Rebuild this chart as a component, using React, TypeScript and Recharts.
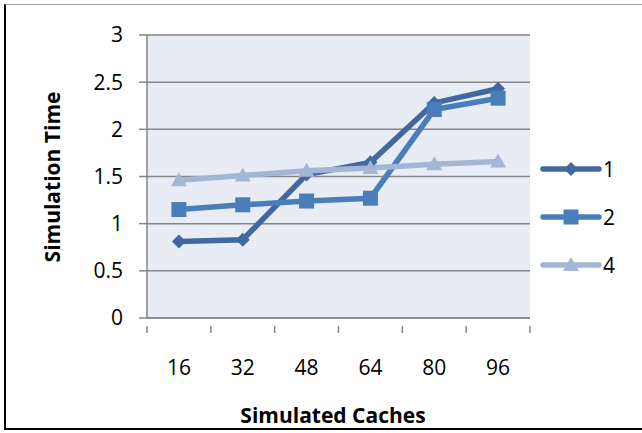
import React from 'react';
import { LineChart, Line, XAxis, YAxis, CartesianGrid, Label } from 'recharts';

// cache counts on the x axis
const caches = ['16', '32', '48', '64', '80', '96'];

// simulation time per configuration
const series1 = [0.81, 0.83, 1.52, 1.65, 2.28, 2.43];
const series2 = [1.15, 1.2, 1.24, 1.27, 2.21, 2.33];
const series4 = [1.46, 1.51, 1.56, 1.59, 1.63, 1.66];

const yTicks = [0, 0.5, 1, 1.5, 2, 2.5, 3];

const seriesNames = ['1', '2', '4'];
const colors = ['#41699E', '#4A7EBB', '#A4B6D6'];

const data = caches.map((c, i) => ({
  cache: c,
  '1': series1[i],
  '2': series2[i],
  '4': series4[i],
}));

const FONT = '"Open Sans", sans-serif';
const PLOT_LEFT = 147;
const PLOT_RIGHT = 530;
const HALF_BAND = (PLOT_RIGHT - PLOT_LEFT) / caches.length / 2;

const Marker = ({ kind, cx, cy, color }: { kind: number; cx: number; cy: number; color: string }) => {
  if (kind === 0) {
    const r = 7;
    return <path d={`M${cx},${cy - r}L${cx + r},${cy}L${cx},${cy + r}L${cx - r},${cy}Z`} fill={color} />;
  }
  if (kind === 1) {
    return <rect x={cx - 7.5} y={cy - 7.5} width={15} height={15} fill={color} />;
  }
  return <path d={`M${cx},${cy - 8}L${cx + 8},${cy + 6}L${cx - 8},${cy + 6}Z`} fill={color} />;
};

const makeDot = (kind: number, color: string) => (props: any) => {
  const { cx, cy, index } = props;
  return <Marker key={`m-${kind}-${index}`} kind={kind} cx={cx} cy={cy} color={color} />;
};

// category labels sit in the band centre, tick marks on the band edges
const XTick = (props: any) => {
  const { x, y, payload, index } = props;
  const left = x - HALF_BAND;
  return (
    <g>
      <line x1={left} y1={y} x2={left} y2={y + 7} stroke="#868686" strokeWidth={1.5} />
      {index === caches.length - 1 && (
        <line x1={x + HALF_BAND} y1={y} x2={x + HALF_BAND} y2={y + 7} stroke="#868686" strokeWidth={1.5} />
      )}
      <text x={x} y={y + 49} textAnchor="middle" fontSize={21} fontFamily={FONT} fill="#000">
        {payload.value}
      </text>
    </g>
  );
};

const ChartLegend = () => (
  <div style={{ position: 'absolute', left: 540, top: 145, fontFamily: FONT, fontSize: 21, color: '#000' }}>
    {seriesNames.map((name, i) => (
      <div key={name} style={{ display: 'flex', alignItems: 'center', height: 48 }}>
        <svg width={62} height={20}>
          <line x1={3} y1={10} x2={59} y2={10} stroke={colors[i]} strokeWidth={5.5} strokeLinecap="round" />
          <Marker kind={i} cx={31} cy={10} color={colors[i]} />
        </svg>
        <span style={{ marginLeft: 1 }}>{name}</span>
      </div>
    ))}
  </div>
);

const App: React.FC = () => {
  return (
    <div style={{ position: 'relative', width: 642, height: 433, background: '#fff', overflow: 'hidden' }}>
      <style>{'body{margin:0}'}</style>
      {/* outer frame */}
      <div style={{ position: 'absolute', left: 4, top: 4, right: -4, bottom: 3, borderTop: '1.5px solid #a6a6a6', borderLeft: '2px solid #000', borderBottom: '2px solid #000' }} />
      <div style={{ position: 'absolute', left: 0, top: 0 }}>
        <LineChart width={642} height={433} data={data} margin={{ top: 35, right: 642 - PLOT_RIGHT, bottom: 0, left: 0 }}>
          <CartesianGrid vertical={false} stroke="#868686" strokeWidth={1.5} fill="#E8ECF4" />
          <XAxis
            dataKey="cache"
            scale="band"
            height={115}
            axisLine={{ stroke: '#868686', strokeWidth: 1.5 }}
            tickLine={false}
            tick={<XTick />}
            interval={0}
          >
            <Label
              content={() => (
                <text x={333} y={423} textAnchor="middle" fontSize={21} fontWeight="bold" fontFamily={FONT} fill="#000">
                  Simulated Caches
                </text>
              )}
            />
          </XAxis>
          <YAxis
            width={PLOT_LEFT}
            domain={[0, 3]}
            ticks={yTicks}
            interval={0}
            axisLine={{ stroke: '#868686', strokeWidth: 1.5 }}
            tickLine={{ stroke: '#868686', strokeWidth: 1.5 }}
            tickSize={8}
            tickMargin={16}
            tick={{ fontSize: 21, fontFamily: FONT, fill: '#000' }}
          >
            <Label
              content={() => (
                <text
                  x={60}
                  y={177}
                  transform="rotate(-90 60 177)"
                  textAnchor="middle"
                  fontSize={21}
                  fontWeight="bold"
                  fontFamily={FONT}
                  fill="#000"
                >
                  Simulation Time
                </text>
              )}
            />
          </YAxis>
          {seriesNames.map((name, i) => (
            <Line
              key={name}
              dataKey={name}
              stroke={colors[i]}
              strokeWidth={5.5}
              dot={makeDot(i, colors[i])}
              activeDot={false}
              isAnimationActive={false}
            />
          ))}
        </LineChart>
      </div>
      <ChartLegend />
    </div>
  );
};

export default App;
